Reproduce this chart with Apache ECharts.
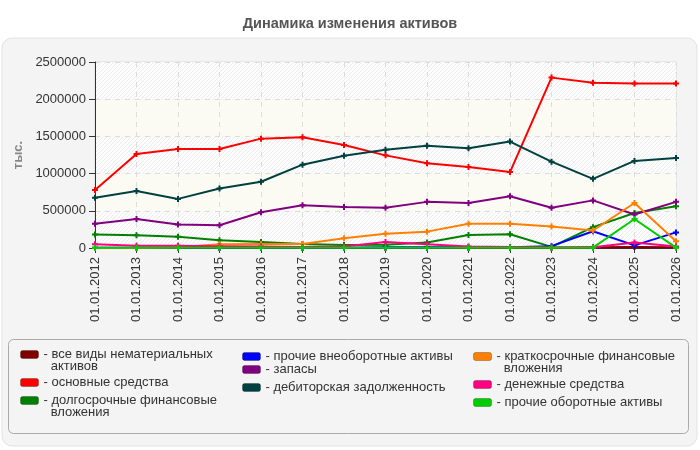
<!DOCTYPE html>
<html><head><meta charset="utf-8">
<script src="https://cdn.jsdelivr.net/npm/echarts@6/dist/echarts.min.js"></script>
<style>html,body{margin:0;padding:0;background:#fff}#c{width:700px;height:450px}</style>
</head><body><div id="c"></div>
<script>
const categories = ['01.01.2012','01.01.2013','01.01.2014','01.01.2015','01.01.2016','01.01.2017','01.01.2018','01.01.2019','01.01.2020','01.01.2021','01.01.2022','01.01.2023','01.01.2024','01.01.2025','01.01.2026'];
const yTicks = [0, 500000, 1000000, 1500000, 2000000, 2500000];

const intangible   = [0, 0, 0, 0, 0, 0, 0, 0, 0, 0, 0, 0, 10000, 15000, 10000];
const fixedAssets  = [780000, 1265000, 1330000, 1330000, 1470000, 1490000, 1385000, 1245000, 1140000, 1090000, 1020000, 2290000, 2220000, 2210000, 2210000];
const ltInvest     = [180000, 170000, 150000, 105000, 80000, 55000, 40000, 45000, 75000, 175000, 185000, 15000, 280000, 470000, 560000];
const otherNonCur  = [5000, 5000, 5000, 5000, 5000, 5000, 5000, 10000, 10000, 10000, 10000, 25000, 225000, 35000, 210000];
const inventories  = [325000, 390000, 315000, 305000, 480000, 575000, 550000, 540000, 620000, 605000, 695000, 540000, 640000, 450000, 620000];
const receivables  = [675000, 765000, 660000, 800000, 890000, 1120000, 1240000, 1320000, 1375000, 1340000, 1430000, 1160000, 930000, 1170000, 1210000];
const stInvest     = [0, 0, 10000, 50000, 55000, 55000, 130000, 190000, 220000, 325000, 325000, 290000, 235000, 605000, 90000];
const cash         = [50000, 30000, 30000, 25000, 20000, 15000, 20000, 80000, 50000, 20000, 15000, 10000, 10000, 75000, 20000];
const otherCur     = [5000, 5000, 5000, 5000, 5000, 5000, 5000, 5000, 5000, 5000, 5000, 5000, 5000, 390000, 5000];

const names = ['все виды нематериальных активов','основные средства','долгосрочные финансовые вложения','прочие внеоборотные активы','запасы','дебиторская задолженность','краткосрочные финансовые вложения','денежные средства','прочие оборотные активы'];
const legendText = ['\n- все виды нематериальных\n  активов','- основные средства','\n- долгосрочные финансовые\n  вложения','- прочие внеоборотные активы','- запасы','- дебиторская задолженность','\n- краткосрочные финансовые\n  вложения','- денежные средства','- прочие оборотные активы'];
const colors = ['#800000','#ff0000','#008000','#0000ff','#800080','#004040','#ff8000','#ff0080','#00cc00'];
const seriesData = [intangible, fixedAssets, ltInvest, otherNonCur, inventories, receivables, stInvest, cash, otherCur];
const legendPos = [[20,350,true],[20,378,false],[20,396,true],[242,352,false],[242,365,false],[242,383,false],[473,352,true],[473,380,false],[473,398,false]];

const FONT = 'Liberation Sans, Arial, sans-serif';

// hatch pattern
const pc = document.createElement('canvas');
pc.width = 4; pc.height = 4;
const g = pc.getContext('2d');
g.fillStyle = '#fdfdfd'; g.fillRect(0,0,4,4);
g.strokeStyle = '#ececec'; g.lineWidth = 1;
g.beginPath();
g.moveTo(0,4); g.lineTo(4,0);
g.moveTo(-2,2); g.lineTo(2,-2);
g.moveTo(2,6); g.lineTo(6,2);
g.stroke();
const hatch = {image: pc, repeat: 'repeat'};

const chart = echarts.init(document.getElementById('c'), null, {renderer:'canvas'});

const legends = names.map((n,i)=>({
  data:[n], left: legendPos[i][0], top: legendPos[i][1] - (legendPos[i][2] ? 14 : 2), padding:0,
  itemWidth:18, itemHeight:8, icon:'roundRect', selectedMode:false,
  itemStyle:{borderColor:'rgba(0,0,0,0.25)', borderWidth:1},
  formatter: ()=>legendText[i],
  textStyle:{fontSize:13, color:'#333', fontFamily:FONT, lineHeight:12}
}));

const series = names.map((n,i)=>({
  name:n, type:'line', data: seriesData[i],
  symbol:'path://M2,0h2v2h2v2h-2v2h-2v-2h-2v-2h2z', symbolSize:6,
  lineStyle:{width:2, color:colors[i]}, itemStyle:{color:colors[i]},
  z: 2 + i*0.01
}));

chart.setOption({
  animation:false,
  backgroundColor:'#fff',
  textStyle:{fontFamily:FONT},
  title:{text:'Динамика изменения активов', left:'center', top:11,
    textStyle:{fontSize:14.5, fontWeight:'bold', color:'#555', fontFamily:FONT}},
  graphic:{elements:[
    {type:'rect', z:-10, shape:{x:2,y:38,width:695,height:408,r:10}, style:{fill:'#f4f4f4', stroke:'#e2e2e2', lineWidth:1}},
    {type:'rect', z:-9, shape:{x:8.5,y:339.5,width:680,height:94,r:5}, style:{fill:'#f4f4f4', stroke:'#aaa', lineWidth:1}}
  ]},
  grid:{left:95, right:24, top:62, bottom:202, show:true, borderColor:'#ddd', borderWidth:1, backgroundColor:'transparent'},
  legend: legends,
  xAxis:{type:'category', data:categories, boundaryGap:false,
    axisLine:{lineStyle:{color:'#333'}}, axisTick:{show:true, length:5, lineStyle:{color:'#333'}},
    axisLabel:{rotate:90, fontSize:13, color:'#333', margin:9, fontFamily:FONT},
    splitLine:{show:true, lineStyle:{color:'#ddd', type:[5,5]}}},
  yAxis:{type:'value', min:yTicks[0], max:yTicks[yTicks.length-1], interval:500000,
    name:'тыс.', nameLocation:'middle', nameGap:66, nameRotate:90,
    nameTextStyle:{color:'#888', fontWeight:'bold', fontSize:13, fontFamily:FONT},
    axisLine:{show:true, lineStyle:{color:'#333'}}, axisTick:{show:true, length:6, lineStyle:{color:'#333'}},
    axisLabel:{fontSize:13, color:'#333', margin:9, fontFamily:FONT, formatter:(v)=>String(v)},
    splitLine:{show:true, lineStyle:{color:'#ddd', type:[5,5]}},
    splitArea:{show:true, areaStyle:{color:[hatch, '#fbfbf3']}}},
  series: series
});
</script></body></html>
